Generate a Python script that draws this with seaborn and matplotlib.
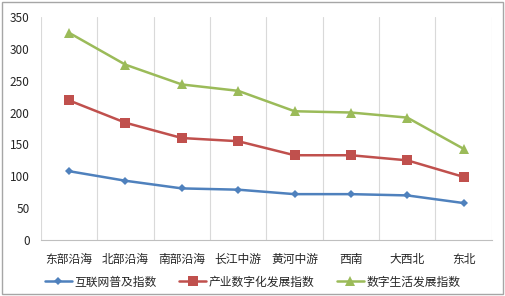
import pandas as pd
import matplotlib
matplotlib.use("Agg")
import matplotlib.pyplot as plt
import seaborn as sns

# Data
regions = ['东部沿海', '北部沿海', '南部沿海', '长江中游', '黄河中游', '西南', '大西北', '东北']
internet = [108, 93, 81, 79, 72, 72, 70, 58]
industry = [219, 184, 160, 155, 133, 133, 125, 99]
life = [325, 275, 244, 234, 202, 200, 192, 143]
series_names = ['互联网普及指数', '产业数字化发展指数', '数字生活发展指数']

df = pd.DataFrame({'region': regions * 3,
                   'value': internet + industry + life,
                   'series': [s for s in series_names for _ in regions]})
df['x'] = df['region'].map({r: i for i, r in enumerate(regions)})

sns.set_style("white")
plt.rcParams['font.family'] = ['Noto Sans CJK SC', 'DejaVu Sans']

fig = plt.figure(figsize=(5.05, 2.96), dpi=100)
ax = fig.add_axes([0.081, 0.189, 0.893, 0.754])

palette = {'互联网普及指数': '#4F81BD', '产业数字化发展指数': '#C0504D', '数字生活发展指数': '#9BBB59'}
markers = {'互联网普及指数': 'D', '产业数字化发展指数': 's', '数字生活发展指数': '^'}
sizes = {'互联网普及指数': 4.5, '产业数字化发展指数': 6.5, '数字生活发展指数': 7}

for name in series_names:
    sub = df[df['series'] == name]
    sns.lineplot(data=sub, x='x', y='value', color=palette[name], marker=markers[name],
                 markersize=sizes[name], markeredgewidth=0, linewidth=1.8, label=name, ax=ax)

ax.set_xlim(-0.5, len(regions) - 0.5)
ax.set_ylim(0, 350)
ax.set_yticks(range(0, 351, 50))
ax.set_xticks(range(len(regions)))
ax.set_xticklabels(regions, fontsize=8.5)
ax.tick_params(axis='y', labelsize=8.5, length=0, pad=8)
ax.tick_params(axis='x', length=0, pad=9)
ax.set_xlabel('')
ax.set_ylabel('')

for b in [i - 0.5 for i in range(len(regions) + 1)]:
    ax.axvline(b, color='#D9D9D9', linewidth=0.8, zorder=0)
for s in ['top', 'right', 'left']:
    ax.spines[s].set_visible(False)
ax.spines['bottom'].set_color('#BFBFBF')
ax.spines['bottom'].set_linewidth(0.8)

ax.legend(loc='center', bbox_to_anchor=(0.5, 0.047), bbox_transform=fig.transFigure,
          ncol=3, frameon=False, fontsize=8.5, handlelength=2.3, columnspacing=1.9,
          handletextpad=0.2, borderpad=0)

fig.patches.append(plt.Rectangle((0.004, 0.006), 0.992, 0.988, transform=fig.transFigure,
                                 fill=False, edgecolor='#A6A6A6', linewidth=1))

fig.savefig('out.png', dpi=100)
